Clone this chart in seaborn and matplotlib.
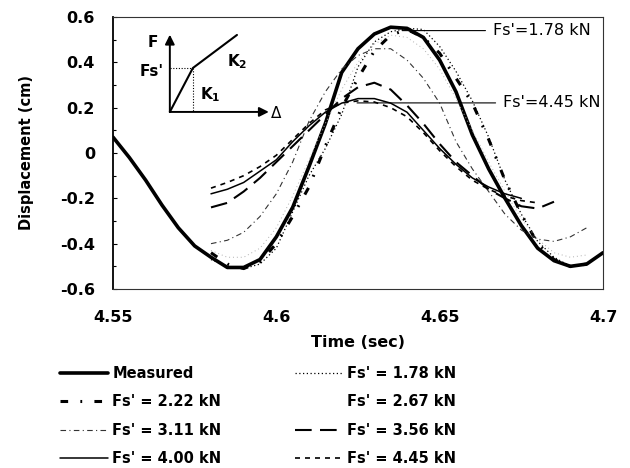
import numpy as np
import pandas as pd
import matplotlib
matplotlib.use("Agg")
import matplotlib.pyplot as plt
import seaborn as sns

# ---------------- data ----------------
time_measured = [4.550, 4.555, 4.560, 4.565, 4.570, 4.575, 4.580, 4.585, 4.590, 4.595,
                 4.600, 4.605, 4.610, 4.615, 4.620, 4.625, 4.630, 4.635, 4.640, 4.645,
                 4.650, 4.655, 4.660, 4.665, 4.670, 4.675, 4.680, 4.685, 4.690, 4.695, 4.700]
measured = [0.07, -0.02, -0.12, -0.23, -0.33, -0.41, -0.46, -0.505, -0.505, -0.47,
            -0.37, -0.24, -0.06, 0.13, 0.355, 0.46, 0.525, 0.555, 0.55, 0.51,
            0.41, 0.27, 0.08, -0.07, -0.20, -0.32, -0.42, -0.475, -0.50, -0.49, -0.44]

time_sim = [4.580, 4.585, 4.590, 4.595, 4.600, 4.605, 4.610, 4.615, 4.620, 4.625,
            4.630, 4.635, 4.640, 4.645, 4.650, 4.655, 4.660, 4.665, 4.670, 4.675,
            4.680, 4.685, 4.690, 4.695, 4.700]
fs_178 = [-0.47, -0.50, -0.51, -0.49, -0.42, -0.26, -0.10, 0.02, 0.17, 0.38,
          0.49, 0.535, 0.55, 0.545, 0.47, 0.36, 0.23, 0.07, -0.12, -0.27,
          -0.39, -0.46, -0.50, -0.49, None]
fs_222 = [-0.44, -0.49, -0.51, -0.48, -0.40, -0.28, -0.15, 0.03, 0.20, 0.33,
          0.45, 0.52, 0.545, 0.51, 0.44, 0.33, 0.22, 0.06, -0.12, -0.27,
          -0.40, -0.47, -0.50, -0.49, None]
fs_267 = [-0.43, -0.46, -0.46, -0.42, -0.33, -0.19, -0.03, 0.13, 0.28, 0.40,
          0.48, 0.52, 0.51, 0.46, 0.37, 0.24, 0.10, -0.04, -0.17, -0.29,
          -0.38, -0.44, -0.46, -0.45, None]
fs_311 = [-0.40, -0.385, -0.35, -0.28, -0.18, -0.04, 0.14, 0.27, 0.37, 0.43,
          0.46, 0.46, 0.41, 0.33, 0.22, 0.05, -0.07, -0.17, -0.27, -0.34,
          -0.38, -0.39, -0.37, -0.33, None]
fs_356 = [-0.24, -0.22, -0.17, -0.11, -0.04, 0.03, 0.10, 0.17, 0.24, 0.29,
          0.31, 0.28, 0.21, 0.13, 0.04, -0.04, -0.10, -0.16, -0.20, -0.235,
          -0.245, -0.215, None, None, None]
fs_400 = [-0.18, -0.16, -0.13, -0.08, -0.03, 0.05, 0.12, 0.18, 0.22, 0.24,
          0.24, 0.22, 0.18, 0.10, 0.02, -0.05, -0.11, -0.15, -0.18, -0.20,
          None, None, None, None, None]
fs_445 = [-0.155, -0.13, -0.10, -0.06, -0.01, 0.06, 0.13, 0.19, 0.22, 0.23,
          0.225, 0.20, 0.16, 0.09, 0.01, -0.06, -0.12, -0.16, -0.19, -0.21,
          -0.22, None, None, None, None]

series_labels = ["Measured", "Fs' = 1.78 kN", "Fs' = 2.22 kN", "Fs' = 2.67 kN",
                 "Fs' = 3.11 kN", "Fs' = 3.56 kN", "Fs' = 4.00 kN", "Fs' = 4.45 kN"]
y_ticks = [-0.6, -0.4, -0.2, 0.0, 0.2, 0.4, 0.6]
y_tick_labels = ["-0.6", "-0.4", "-0.2", "0", "0.2", "0.4", "0.6"]
x_ticks = [4.55, 4.60, 4.65, 4.70]
x_tick_labels = ["4.55", "4.6", "4.65", "4.7"]

# ---------------- styling ----------------
sns.set_theme(style="ticks")
plt.rcParams["font.family"] = ["DejaVu Sans"]
plt.rcParams.update({"text.color": "black", "axes.labelcolor": "black",
                     "xtick.color": "black", "ytick.color": "black"})

styles = {
    "Measured":      dict(color="black", linewidth=2.6, linestyle="-"),
    "Fs' = 1.78 kN": dict(color="black", linewidth=0.9, linestyle=(0, (1, 2))),
    "Fs' = 2.22 kN": dict(color="black", linewidth=2.2, linestyle=(0, (2.5, 4, 0.6, 4))),
    "Fs' = 2.67 kN": dict(color="#b0b0b0", linewidth=0.7, linestyle=(0, (1, 3))),
    "Fs' = 3.11 kN": dict(color="#333333", linewidth=0.8, linestyle=(0, (5, 3, 1, 3))),
    "Fs' = 3.56 kN": dict(color="black", linewidth=1.5, linestyle=(0, (8, 4))),
    "Fs' = 4.00 kN": dict(color="black", linewidth=1.1, linestyle="-"),
    "Fs' = 4.45 kN": dict(color="black", linewidth=1.2, linestyle=(0, (3, 3))),
}

frames = [pd.DataFrame({"time": time_measured, "disp": measured, "series": "Measured"})]
for lab, vals in zip(series_labels[1:], [fs_178, fs_222, fs_267, fs_311, fs_356, fs_400, fs_445]):
    frames.append(pd.DataFrame({"time": time_sim, "disp": vals, "series": lab}))
df = pd.concat(frames, ignore_index=True)
df["disp"] = pd.to_numeric(df["disp"])
df = df.dropna()

fig = plt.figure(figsize=(6.3, 4.68), dpi=100)
ax = fig.add_axes([113 / 630, 1 - 289 / 468, 490 / 630, 272 / 468])

for lab in series_labels:
    sub = df[df["series"] == lab]
    sns.lineplot(data=sub, x="time", y="disp", ax=ax, label=lab, estimator=None,
                 sort=False, **styles[lab])

ax.set_xlim(4.55, 4.70)
ax.set_ylim(-0.6, 0.6)
ax.set_xticks(x_ticks)
ax.set_xticklabels(x_tick_labels, fontsize=11.5, fontweight="bold")
ax.set_yticks(y_ticks)
ax.set_yticklabels(y_tick_labels, fontsize=11.5, fontweight="bold")
ax.set_yticks(np.arange(-0.6, 0.61, 0.1), minor=True)
ax.tick_params(axis="y", which="both", direction="in", length=3, width=0.8, pad=13)
ax.tick_params(axis="y", which="minor", length=2)
ax.tick_params(axis="x", which="both", length=0, pad=15)
ax.set_xlabel("Time (sec)", fontsize=11.5, fontweight="bold", labelpad=7)
ax.set_ylabel("Displacement (cm)", fontsize=10.5, fontweight="bold", labelpad=19)

for side in ["top", "right", "bottom"]:
    ax.spines[side].set_linewidth(0.8)
    ax.spines[side].set_color("#333333")
ax.spines["left"].set_linewidth(1.3)
ax.spines["left"].set_color("black")

# leader labels
ax.annotate("Fs'=1.78 kN", xy=(4.6385, 0.54), xytext=(4.6663, 0.54),
            fontsize=11.5, va="center", ha="left",
            arrowprops=dict(arrowstyle="-", lw=0.8, color="black", shrinkA=3, shrinkB=0))
ax.annotate("Fs'=4.45 kN", xy=(4.6247, 0.221), xytext=(4.6694, 0.221),
            fontsize=11.5, va="center", ha="left",
            arrowprops=dict(arrowstyle="-", lw=0.8, color="black", shrinkA=3, shrinkB=0))

# inset bilinear force-displacement sketch (axes fraction coords)
T = ax.transAxes
ax.annotate("", xy=(0.116, 0.935), xytext=(0.116, 0.651), xycoords=T, textcoords=T,
            arrowprops=dict(arrowstyle="-|>", lw=1.4, color="black", mutation_scale=14,
                            shrinkA=0, shrinkB=0))
ax.annotate("", xy=(0.318, 0.651), xytext=(0.116, 0.651), xycoords=T, textcoords=T,
            arrowprops=dict(arrowstyle="-|>", lw=1.4, color="black", mutation_scale=14,
                            shrinkA=0, shrinkB=0))
ax.plot([0.116, 0.163, 0.253], [0.651, 0.8125, 0.934], transform=T, color="black", lw=1.5)
ax.plot([0.116, 0.163], [0.8125, 0.8125], transform=T, color="black", lw=0.8, ls=(0, (1, 1.5)))
ax.plot([0.163, 0.163], [0.8125, 0.651], transform=T, color="black", lw=0.8, ls=(0, (1, 1.5)))
ax.text(0.082, 0.905, "F", transform=T, fontsize=11, fontweight="bold", ha="center", va="center")
ax.text(0.104, 0.80, "Fs'", transform=T, fontsize=11, fontweight="bold", ha="right", va="center")
ax.text(0.178, 0.715, "K$_\\mathbf{1}$", transform=T, fontsize=11, fontweight="bold", ha="left", va="center")
ax.text(0.232, 0.835, "K$_\\mathbf{2}$", transform=T, fontsize=11, fontweight="bold", ha="left", va="center")
ax.text(0.322, 0.645, "Δ", transform=T, fontsize=11, ha="left", va="center")

# legend below
handles, labels = ax.get_legend_handles_labels()
ax.get_legend().remove()
order = [0, 2, 4, 6, 1, 3, 5, 7]
leg = fig.legend([handles[i] for i in order], [labels[i] for i in order],
                 ncol=2, loc="upper left", bbox_to_anchor=(60 / 630, 1 - 366 / 468),
                 frameon=False, prop=dict(size=10.5, weight="bold"),
                 handlelength=3.3, handletextpad=0.3, columnspacing=5.0,
                 labelspacing=0.92, borderpad=0, borderaxespad=0)
for h, lab in zip(leg.legend_handles, [labels[i] for i in order]):
    if lab == "Fs' = 2.67 kN":
        h.set_visible(False)

fig.savefig("out.png", dpi=100)
